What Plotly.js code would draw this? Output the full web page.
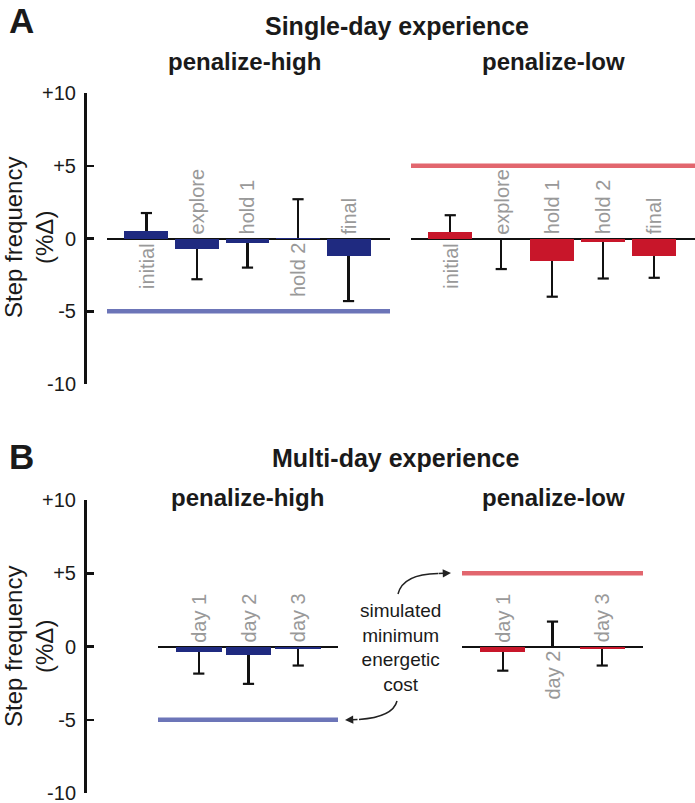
<!DOCTYPE html>
<html><head><meta charset="utf-8">
<script src="https://cdn.plot.ly/plotly-3.0.1.min.js"></script>
<style>html,body{margin:0;padding:0;background:#fff}</style>
</head><body><div id="chart" style="width:695px;height:803px"></div>
<script>
// ---------- data ----------
const stages = ['initial', 'explore', 'hold 1', 'hold 2', 'final'];
const days = ['day 1', 'day 2', 'day 3'];

// Single-day experience (A)
const singleHighMean = [0.5, -0.7, -0.3, 0.05, -1.2];
const singleHighErrUp = [1.25, 0, 0, 2.65, 0];
const singleHighErrDown = [0, 2.1, 1.7, 0, 3.1];
const singleLowMean = [0.45, -0.05, -1.55, -0.25, -1.2];
const singleLowErrUp = [1.15, 0, 0, 0, 0];
const singleLowErrDown = [0, 2.05, 2.45, 2.5, 1.5];

// Multi-day experience (B)
const multiHighMean = [-0.35, -0.6, -0.2];
const multiHighErrUp = [0, 0, 0];
const multiHighErrDown = [1.5, 1.95, 1.1];
const multiLowMean = [-0.35, -0.05, -0.15];
const multiLowErrUp = [0, 1.75, 0];
const multiLowErrDown = [1.3, 0, 1.15];

// simulated minimum energetic cost: [penalize-high, penalize-low]
const simulatedMinimum = [-5, 5];

const yTickVals = [10, 5, 0, -5, -10];
const yTickText = ['+10', '+5', '0', '-5', '-10'];

// ---------- styling / layout helpers ----------
const W = 695, H = 803;
const px = v => v / W;
const py = v => 1 - v / H;
const FONT = '"Liberation Sans", Arial, Helvetica, sans-serif';
const BLUE = '#1f2a80', RED = '#c8162a', BLUE_SIM = '#6c75b8', RED_SIM = '#e2666e';

const groups = [
  {cats: stages, mean: singleHighMean, up: singleHighErrUp, down: singleHighErrDown, color: BLUE, sim: simulatedMinimum[0], simColor: BLUE_SIM, xa: 'x', ya: 'y', width: 0.87},
  {cats: stages, mean: singleLowMean, up: singleLowErrUp, down: singleLowErrDown, color: RED, sim: simulatedMinimum[1], simColor: RED_SIM, xa: 'x2', ya: 'y', width: 0.87},
  {cats: days, mean: multiHighMean, up: multiHighErrUp, down: multiHighErrDown, color: BLUE, sim: simulatedMinimum[0], simColor: BLUE_SIM, xa: 'x3', ya: 'y2', width: 0.92},
  {cats: days, mean: multiLowMean, up: multiLowErrUp, down: multiLowErrDown, color: RED, sim: simulatedMinimum[1], simColor: RED_SIM, xa: 'x4', ya: 'y2', width: 0.9}
];

const traces = [];
groups.forEach(g => {
  traces.push({
    type: 'bar', x: g.cats, y: g.mean, xaxis: g.xa, yaxis: g.ya, width: g.width,
    marker: {color: g.color, line: {width: 0}},
    error_y: {type: 'data', symmetric: false, array: g.up, arrayminus: g.down, color: '#111', thickness: 2.2, width: 0},
    hoverinfo: 'skip', showlegend: false
  });
  // caps only at the far end of each one-sided error bar
  traces.push({
    type: 'scatter', mode: 'markers', x: g.cats, y: g.mean.map((m, i) => m + g.up[i] - g.down[i]),
    xaxis: g.xa, yaxis: g.ya, cliponaxis: false,
    marker: {symbol: 'line-ew', size: 8, color: '#111', line: {color: '#111', width: 2.2}},
    hoverinfo: 'skip', showlegend: false
  });
});

const shapes = groups.map(g => ({
  type: 'line', xref: g.xa + ' domain', x0: 0, x1: 1, yref: g.ya, y0: g.sim, y1: g.sim,
  line: {color: g.simColor, width: 4.5}
}));
// curved arrows for the "simulated minimum energetic cost" note
shapes.push({type: 'path', xref: 'paper', yref: 'paper',
  path: `M${px(398)},${py(594)} Q${px(403)},${py(574)} ${px(438)},${py(573.5)}`,
  line: {color: '#222', width: 1.5}});
shapes.push({type: 'path', xref: 'paper', yref: 'paper',
  path: `M${px(397)},${py(701)} Q${px(393)},${py(717)} ${px(359)},${py(719.5)}`,
  line: {color: '#222', width: 1.5}});

const annotations = [];
groups.forEach(g => {
  g.cats.forEach((c, i) => {
    const below = g.up[i] > 0;
    annotations.push({xref: g.xa, yref: g.ya, x: c, y: 0, text: c, textangle: -90, showarrow: false,
      font: {family: FONT, size: 20, color: '#999'}, xanchor: 'center',
      yanchor: below ? 'top' : 'bottom', yshift: below ? -2 : 2});
  });
});

const txt = (x, y, text, size, bold, extra) => Object.assign({
  xref: 'paper', yref: 'paper', x: px(x), y: py(y), text: bold ? '<b>' + text + '</b>' : text,
  showarrow: false, xanchor: 'center', yanchor: 'middle',
  font: {family: FONT, size: size, color: '#1a1a1a'}
}, extra || {});

annotations.push(txt(21, 21, 'A', 35, true));
annotations.push(txt(21, 456, 'B', 35, true));
annotations.push(txt(397, 26, 'Single-day experience', 25, true));
annotations.push(txt(395, 458, 'Multi-day experience', 25, true));
annotations.push(txt(244, 62, 'penalize-high', 24, true));
annotations.push(txt(553, 62, 'penalize-low', 24, true));
annotations.push(txt(247, 497, 'penalize-high', 24, true));
annotations.push(txt(553, 497, 'penalize-low', 24, true));
annotations.push(txt(29, 238, 'Step frequency<br>(%Δ)', 24, false, {textangle: -90}));
annotations.push(txt(29, 647, 'Step frequency<br>(%Δ)', 24, false, {textangle: -90}));
annotations.push(txt(400, 647, 'simulated<br>minimum<br>energetic<br>cost', 19, false, {align: 'center'}));
// arrowheads
annotations.push({xref: 'paper', yref: 'paper', x: px(451), y: py(573), ax: -14, ay: 0.5, text: '',
  showarrow: true, arrowhead: 2, arrowsize: 1.1, arrowwidth: 1.5, arrowcolor: '#222'});
annotations.push({xref: 'paper', yref: 'paper', x: px(345), y: py(720), ax: 14, ay: -0.5, text: '',
  showarrow: true, arrowhead: 2, arrowsize: 1.1, arrowwidth: 1.5, arrowcolor: '#222'});

const xBase = {type: 'category', visible: false, showgrid: false, zeroline: false, fixedrange: true};
const yBase = {
  range: [-10, 10], anchor: 'free', position: px(85), tickmode: 'array', tickvals: yTickVals, ticktext: yTickText,
  ticks: 'inside', ticklen: 7, tickwidth: 2.5, tickcolor: '#111', showline: true, linewidth: 2.5, linecolor: '#111',
  zeroline: true, zerolinecolor: '#111', zerolinewidth: 2, showgrid: false, ticklabelstandoff: 4,
  ticklabeloverflow: 'allow',
  tickfont: {family: FONT, size: 20, color: '#1a1a1a'}, fixedrange: true
};

const layout = {
  width: W, height: H, autosize: false, margin: {l: 0, r: 0, t: 0, b: 0},
  paper_bgcolor: '#fff', plot_bgcolor: 'rgba(0,0,0,0)', bargap: 0, font: {family: FONT},
  xaxis: Object.assign({}, xBase, {domain: [px(107), px(390)], anchor: 'y', range: [-0.78, 4.82]}),
  xaxis2: Object.assign({}, xBase, {domain: [px(411), 1], anchor: 'y', range: [-0.77, 4.8]}),
  xaxis3: Object.assign({}, xBase, {domain: [px(158), px(338)], anchor: 'y2', range: [-0.82, 2.8]}),
  xaxis4: Object.assign({}, xBase, {domain: [px(462), px(643)], anchor: 'y2', range: [-0.82, 2.82]}),
  yaxis: Object.assign({}, yBase, {domain: [py(384), py(93)]}),
  yaxis2: Object.assign({}, yBase, {domain: [py(793), py(500)]}),
  shapes: shapes, annotations: annotations
};

Plotly.newPlot('chart', traces, layout, {displayModeBar: false, staticPlot: true});
</script>
</body></html>
